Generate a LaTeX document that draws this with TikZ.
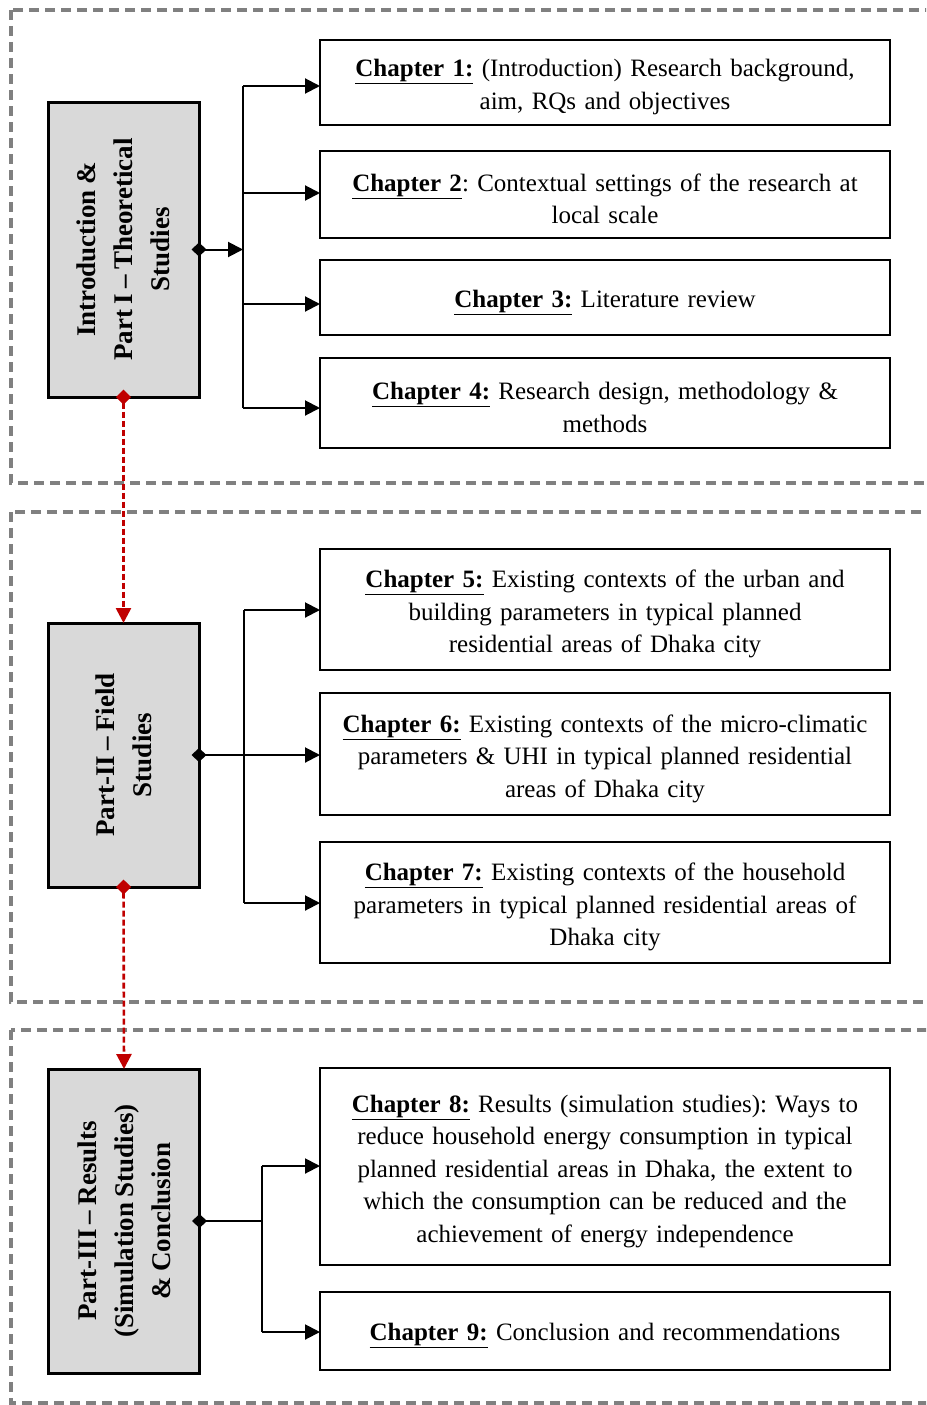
\documentclass[tikz,border=0pt]{standalone}
\usepackage{fontspec}
\setmainfont{Liberation Serif}[WordSpace=0.8]
\usetikzlibrary{arrows.meta}
\definecolor{darkred}{RGB}{192,0,0}
\definecolor{framegray}{RGB}{128,128,128}
\definecolor{boxgray}{RGB}{217,217,217}
\newcommand\chap[1]{\underline{\textbf{#1}}}
\frenchspacing
\tikzset{
  frame/.style={draw=framegray, line width=3.2pt, dash pattern=on 10pt off 6pt},
  partbox/.style={draw, fill=boxgray, line width=3pt, minimum width=151pt, inner sep=0pt, outer sep=0pt},
  parttext/.style={rotate=90, align=center, font=\fontsize{27}{37}\selectfont\bfseries},
  chapbox/.style={draw, line width=2.6pt, minimum width=570pt, inner sep=0pt, outer sep=0pt, text width=560pt, align=center, font=\fontsize{25}{32.5}\selectfont, execute at begin node={\rule{0pt}{26.5pt}}},
  arr/.style={line width=2pt, -{Triangle[length=15pt,width=15pt]}},
  darr/.style={line width=2pt, {Diamond[length=15pt,width=14pt]}-{Triangle[length=15pt,width=15pt]}},
  dline/.style={line width=2pt, {Diamond[length=15pt,width=14pt]}-},
  trunk/.style={line width=2pt},
  redarr/.style={draw=darkred, line width=2.6pt, dash pattern=on 6pt off 3pt, {Diamond[length=15pt,width=15pt,fill=darkred]}-{Triangle[length=15pt,width=15pt,fill=darkred]}}
}
\begin{document}
\begin{tikzpicture}[x=1pt,y=-1pt]
\clip (0,0) rectangle (926,1405);
\fill[white] (0,0) rectangle (926,1405);
% frames
\draw[frame] (11,10) rectangle (960,483);
\draw[frame] (11,512) rectangle (960,1002);
\draw[frame] (11,1030) rectangle (960,1403);
% part boxes
\node[partbox, minimum height=295pt] (p1) at (123.5,249.5) {};
\node[parttext] (p1t) at (p1.center) {Introduction \&\\Part I -- Theoretical\\Studies};
\node[partbox, minimum height=264pt] (p2) at (123.5,755) {};
\node[parttext] (p2t) at (p2.center) {Part-II -- Field\\Studies};
\node[partbox, minimum height=304pt] (p3) at (124,1221) {};
\node[parttext] (p3t) at (p3.center) {Part-III -- Results\\(Simulation Studies)\\\& Conclusion};
% chapter boxes
\node[chapbox, minimum height=85pt] (c1) at (605,82.5) {\chap{Chapter 1:} (Introduction) Research background,\\aim, RQs and objectives};
\node[chapbox, minimum height=87pt] (c2) at (605,194.5) {\chap{Chapter 2}: Contextual settings of the research at\\local scale};
\node[chapbox, minimum height=75pt] (c3) at (605,297.5) {\chap{Chapter 3:} Literature review};
\node[chapbox, minimum height=90pt] (c4) at (605,403) {\chap{Chapter 4:} Research design, methodology \&\\methods};
\node[chapbox, minimum height=121pt] (c5) at (605,609.5) {\chap{Chapter 5:} Existing contexts of the urban and\\building parameters in typical planned\\residential areas of Dhaka city};
\node[chapbox, minimum height=122pt] (c6) at (605,754) {\chap{Chapter 6:} Existing contexts of the micro-climatic\\parameters \& UHI in typical planned residential\\areas of Dhaka city};
\node[chapbox, minimum height=121pt] (c7) at (605,902.5) {\chap{Chapter 7:} Existing contexts of the household\\parameters in typical planned residential areas of\\Dhaka city};
\node[chapbox, minimum height=197pt] (c8) at (605,1166.5) {\chap{Chapter 8:} Results (simulation studies): Ways to\\reduce household energy consumption in typical\\planned residential areas in Dhaka, the extent to\\which the consumption can be reduced and the\\achievement of energy independence};
\node[chapbox, minimum height=78pt] (c9) at (605,1331) {\chap{Chapter 9:} Conclusion and recommendations};
% section 1 connectors
\coordinate (j1) at (243,249.5);
\draw[darr] ([xshift=-7.5pt]p1.east) -- (j1);
\draw[trunk] (243,86) -- (243,408);
\draw[arr] (243,86) -- (c1.west |- 0,86);
\draw[arr] (243,193) -- (c2.west |- 0,193);
\draw[arr] (243,304) -- (c3.west |- 0,304);
\draw[arr] (243,408) -- (c4.west |- 0,408);
% section 2 connectors
\draw[trunk] (244,610) -- (244,903);
\draw[darr] ([xshift=-7.5pt]p2.east) -- (c6.west |- p2.east);
\draw[arr] (244,610) -- (c5.west |- 0,610);
\draw[arr] (244,903) -- (c7.west |- 0,903);
% section 3 connectors
\coordinate (j3) at (262,1221);
\draw[dline] ([xshift=-7.5pt]p3.east) -- (j3);
\draw[trunk] (262,1166) -- (262,1332);
\draw[arr] (262,1166) -- (c8.west |- 0,1166);
\draw[arr] (262,1332) -- (c9.west |- 0,1332);
% red links
\draw[redarr] ([yshift=7.5pt]p1.south) -- (p2.north);
\draw[redarr] ([yshift=7.5pt]p2.south) -- (p3.north);
\end{tikzpicture}
\end{document}
